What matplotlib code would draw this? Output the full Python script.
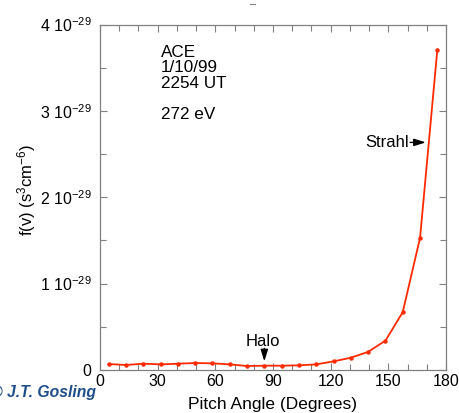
import matplotlib
matplotlib.use("Agg")
import matplotlib.pyplot as plt
from matplotlib.ticker import MultipleLocator, FuncFormatter
from matplotlib.lines import Line2D

plt.rcParams['font.family'] = ['Liberation Sans', 'DejaVu Sans']
plt.rcParams['mathtext.fontset'] = 'custom'
plt.rcParams['mathtext.rm'] = 'Liberation Sans'
plt.rcParams['mathtext.it'] = 'Liberation Sans:italic'

# Data (f(v) in units of 1e-29 s^3 cm^-6)
pitch_angle = [4.5, 13.5, 22.5, 31.5, 40.5, 49.5, 58.5, 67.5, 76.5, 85.5,
               94.5, 103.5, 112.5, 121.5, 130.5, 139.5, 148.5, 157.5, 166.5, 175.5]
fv = [0.069, 0.058, 0.073, 0.065, 0.073, 0.081, 0.077, 0.065, 0.046, 0.050,
      0.050, 0.054, 0.065, 0.100, 0.142, 0.210, 0.340, 0.670, 1.530, 3.710]
y_ticks = [0, 1, 2, 3, 4]
x_ticks = [0, 30, 60, 90, 120, 150, 180]
info_lines = ["ACE", "1/10/99", "2254 UT", "", "272 eV"]

W, H = 459, 413
fig = plt.figure(figsize=(W / 100, H / 100), dpi=100)
ax = fig.add_axes([100 / W, 1 - 370 / H, 346 / W, 345.5 / H])

ax.plot(pitch_angle, fv, color='#ff2a00', lw=1.3, marker='o', ms=3.2,
        markeredgewidth=0, zorder=3)

ax.set_xlim(0, 180)
ax.set_ylim(0, 4)
ax.set_xticks(x_ticks)
ax.xaxis.set_minor_locator(MultipleLocator(10))
ax.set_yticks(y_ticks)
ax.yaxis.set_minor_locator(MultipleLocator(0.5))


def yfmt(v, pos):
    if v == 0:
        return "0"
    return r"%d 10$^{\mathregular{-29}}$" % int(round(v))


ax.yaxis.set_major_formatter(FuncFormatter(yfmt))
for s in ax.spines.values():
    s.set_color('#808080')
    s.set_linewidth(0.9)
ax.tick_params(which='both', direction='in', top=True, right=True,
               color='#808080', width=0.8)
ax.tick_params(which='major', length=5, labelsize=11.5)
ax.tick_params(axis='y', which='major', pad=6)
ax.tick_params(axis='x', which='major', pad=3)
ax.tick_params(which='minor', length=4)

ax.set_xlabel("Pitch Angle (Degrees)", fontsize=12.5)
ax.xaxis.set_label_coords(0.5, -27 / 345.5)
ax.set_ylabel(r"f(v) (s$^{\mathregular{3}}$cm$^{\mathregular{-6}}$)", fontsize=12)
ax.yaxis.set_label_coords(-0.178, 0.52)

fig.text(161 / W, 1 - 45 / H, "\n".join(info_lines), fontsize=12.3,
         va='top', ha='left', linespacing=1.04)

# Halo annotation
ax.annotate("", xy=(85.5, 0.10), xytext=(85.5, 0.25),
            arrowprops=dict(arrowstyle='-|>,head_length=0.7,head_width=0.22',
                            color='black', lw=1.0, shrinkA=0, shrinkB=0))
ax.text(84.5, 0.245, "Halo", fontsize=12, ha='center', va='bottom')

# Strahl annotation
ax.annotate("", xy=(169.5, 2.635), xytext=(161.3, 2.635),
            arrowprops=dict(arrowstyle='-|>,head_length=0.7,head_width=0.22',
                            color='black', lw=1.0, shrinkA=0, shrinkB=0))
ax.text(160.5, 2.635, "Strahl", fontsize=12, ha='right', va='center')

fig.text(96 / W, 1 - 397 / H, "\u00a9 J.T. Gosling", fontsize=11.3,
         style='italic', weight='bold', color='#1f4f8a', ha='right', va='baseline')

fig.add_artist(Line2D([250 / W, 255 / W], [1 - 4 / H, 1 - 4 / H],
                      color='#808080', lw=0.8))

fig.savefig("out.png", dpi=100)
